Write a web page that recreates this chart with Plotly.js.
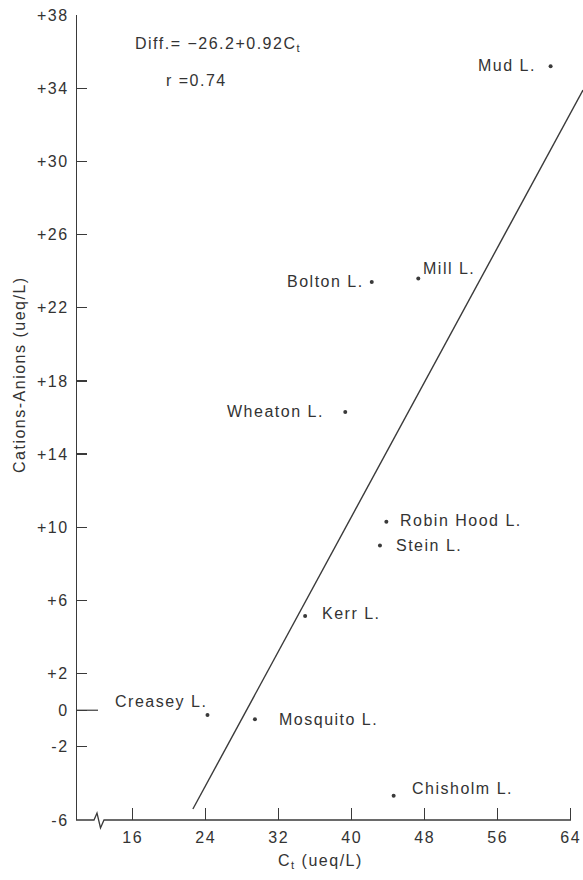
<!DOCTYPE html>
<html>
<head>
<meta charset="utf-8">
<script src="https://cdn.plot.ly/plotly-3.0.1.min.js"></script>
<style>
  html, body { margin: 0; padding: 0; background: #fff; }
  #chart { width: 583px; height: 880px; }
  svg text { letter-spacing: 1.5px; }
</style>
</head>
<body>
<div id="chart"></div>
<script>
// ---- data ----
const lakes = ['Mud L.', 'Mill L.', 'Bolton L.', 'Wheaton L.', 'Robin Hood L.',
               'Stein L.', 'Kerr L.', 'Creasey L.', 'Mosquito L.', 'Chisholm L.'];
const ct    = [61.8, 47.3, 42.2, 39.3, 43.8, 43.1, 34.9, 24.2, 29.4, 44.6];
const diffs = [35.2, 23.6, 23.4, 16.3, 10.3, 9.0, 5.15, -0.26, -0.49, -4.68];

// regression line end points (as drawn)
const fitX = [22.6, 65.35];
const fitY = [-5.4, 33.9];

const xTickVals = [16, 24, 32, 40, 48, 56, 64];
const xTickText = ['16', '24', '32', '40', '48', '56', '64'];
const yTickVals = [38, 34, 30, 26, 22, 18, 14, 10, 6, 2, 0, -2, -6];
const yTickText = ['+38', '+34', '+30', '+26', '+22', '+18', '+14', '+10', '+6', '+2', '0', '-2', '-6'];

// ---- label placement (style only) ----
const labAnchor = ['right', 'left', 'right', 'right', 'left', 'left', 'left', 'right', 'left', 'left'];
const labDx     = [-13, 3, -6, -19, 12, 14, 15, 2, 22, 16];
const labDy     = [1, 10, 1, 1, 1, 0, 3, 13, 0, 7];

const FONT = 'Liberation Sans, Arial, Helvetica, sans-serif';
const TXT = '#333';
const INK = '#3a3a3a';

const W = 583, H = 880;
const M = {l: 77, r: 0, t: 15, b: 60};
const PW = W - M.l - M.r, PH = H - M.t - M.b;
// pixel -> paper helpers for decorations
const px = v => (v - M.l) / PW;
const py = v => (H - M.b - v) / PH;

const traces = [
  {
    x: fitX, y: fitY, mode: 'lines', type: 'scatter',
    line: {color: INK, width: 1.4}, hoverinfo: 'skip', showlegend: false
  },
  {
    x: ct, y: diffs, mode: 'markers', type: 'scatter',
    marker: {color: INK, size: 4}, showlegend: false
  }
];

const annotations = lakes.map((name, i) => ({
  x: ct[i], y: diffs[i], xref: 'x', yref: 'y',
  text: name, showarrow: false,
  xanchor: labAnchor[i], yanchor: 'middle',
  xshift: labDx[i], yshift: labDy[i],
  font: {family: FONT, size: 16, color: TXT}
}));

annotations.push(
  {
    xref: 'paper', yref: 'paper', x: px(133), y: py(45),
    xanchor: 'left', yanchor: 'middle', showarrow: false,
    text: 'Diff.= \u221226.2+0.92C<sub>t</sub>',
    font: {family: FONT, size: 16, color: TXT}
  },
  {
    xref: 'paper', yref: 'paper', x: px(164), y: py(81),
    xanchor: 'left', yanchor: 'middle', showarrow: false,
    text: 'r =0.74',
    font: {family: FONT, size: 16, color: TXT}
  },
  {
    xref: 'paper', yref: 'paper', x: px(320), y: py(862),
    xanchor: 'center', yanchor: 'middle', showarrow: false,
    text: 'C<sub>t</sub> (ueq/L)',
    font: {family: FONT, size: 16, color: TXT}
  },
  {
    xref: 'paper', yref: 'paper', x: px(20), y: py(375),
    xanchor: 'center', yanchor: 'middle', showarrow: false,
    textangle: -90,
    text: 'Cations-Anions (ueq/L)',
    font: {family: FONT, size: 16, color: TXT}
  }
);

const shapes = [
  // x baseline with axis-break squiggle, ending at the 64 tick
  {
    type: 'path', xref: 'paper', yref: 'paper',
    path: `M ${px(76)},${py(820)} L ${px(94)},${py(820)} L ${px(97)},${py(813)} ` +
          `L ${px(100.5)},${py(828)} L ${px(104)},${py(820)} L ${px(571)},${py(820)}`,
    line: {color: INK, width: 1.3}
  },
  // long zero tick
  {
    type: 'line', xref: 'paper', yref: 'y',
    x0: 0, x1: px(98), y0: 0, y1: 0,
    line: {color: INK, width: 1.2}
  }
];

const layout = {
  width: W, height: H,
  margin: M,
  paper_bgcolor: '#fff', plot_bgcolor: '#fff',
  showlegend: false,
  font: {family: FONT, size: 16, color: TXT},
  xaxis: {
    range: [9.9, 65.35], showgrid: false, zeroline: false, showline: false,
    tickmode: 'array', tickvals: xTickVals, ticktext: xTickText,
    ticks: 'inside', ticklen: 12, tickwidth: 1.3, tickcolor: INK,
    ticklabelstandoff: 6,
    tickfont: {family: FONT, size: 16, color: TXT}
  },
  yaxis: {
    range: [-6, 38], showgrid: false, zeroline: false,
    showline: true, linecolor: INK, linewidth: 1.2,
    tickmode: 'array', tickvals: yTickVals, ticktext: yTickText,
    ticks: 'inside', ticklen: 10, tickwidth: 1.2, tickcolor: INK,
    ticklabelstandoff: 4,
    tickfont: {family: FONT, size: 16, color: TXT}
  },
  annotations: annotations,
  shapes: shapes
};

Plotly.newPlot('chart', traces, layout, {displayModeBar: false, staticPlot: true});
</script>
</body>
</html>
